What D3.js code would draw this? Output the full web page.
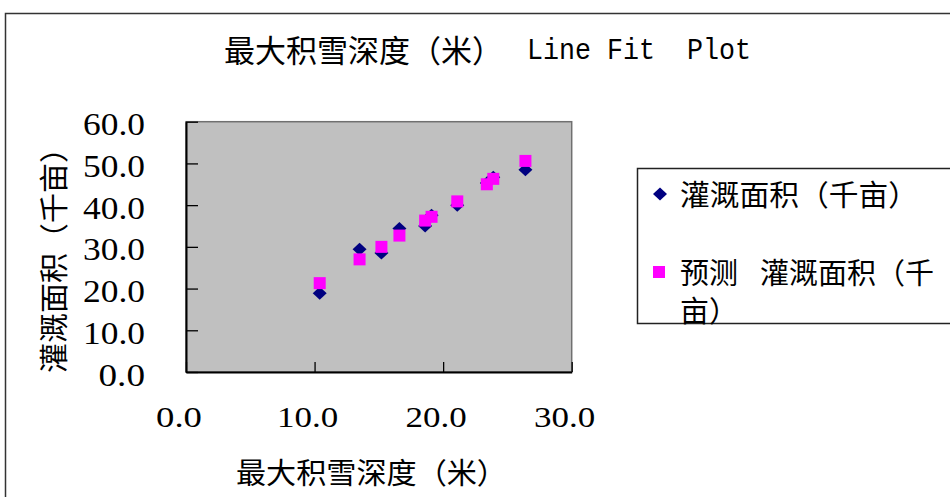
<!DOCTYPE html>
<html>
<head>
<meta charset="utf-8">
<script src="https://cdn.jsdelivr.net/npm/d3@7"></script>
<style>
  html, body { margin: 0; padding: 0; background: #ffffff; }
  svg { display: block; }
</style>
</head>
<body>
<svg id="chart" width="950" height="497"></svg>
<script>
// Snow depth (x) against irrigated area: observed and fitted values
const snowDepth = [10.4, 13.5, 15.2, 16.6, 18.6, 19.1, 21.1, 23.4, 23.9, 26.4];
const irrigated = [18.9, 29.4, 28.5, 34.4, 35.0, 37.6, 40.0, 45.3, 46.7, 48.5];
const predicted = [21.3, 27.0, 30.0, 32.7, 36.3, 37.2, 40.9, 45.0, 46.3, 50.6];
const xTicks = [0, 10, 20, 30];
const yTicks = [0, 10, 20, 30, 40, 50, 60];
const titleCJK = "最大积雪深度（米）";
const titleLatin = "Line Fit  Plot";
const xTitle = "最大积雪深度（米）";
const yTitle = "灌溉面积（千亩）";
const seriesNames = ["灌溉面积（千亩）", "预测 灌溉面积（千亩）"];

const CJK = "'Noto Sans CJK SC', sans-serif";
const SERIF = "'Liberation Serif', 'DejaVu Serif', serif";
const MONO = "'Liberation Mono', 'DejaVu Sans Mono', monospace";

const svg = d3.select("#chart");

// outer chart frame (runs past the window on the right and bottom)
svg.append("rect")
  .attr("x", 5.5).attr("y", 13.5)
  .attr("width", 1000).attr("height", 600)
  .attr("fill", "#ffffff").attr("stroke", "#333333").attr("stroke-width", 1.5);

const plot = { left: 186, right: 571.7, top: 121.7, bottom: 372 };

const x = d3.scaleLinear().domain([0, 30]).range([plot.left, plot.right]);
const y = d3.scaleLinear().domain([0, 60]).range([plot.bottom, plot.top]);

// plot area
svg.append("rect")
  .attr("x", plot.left).attr("y", plot.top)
  .attr("width", plot.right - plot.left).attr("height", plot.bottom - plot.top)
  .attr("fill", "#C0C0C0").attr("stroke", "#707070").attr("stroke-width", 1.5);

// y axis, ticks pointing inwards
const yAxis = svg.append("g")
  .attr("transform", `translate(${plot.left},0)`)
  .call(d3.axisLeft(y).tickValues(yTicks).tickSizeInner(-12).tickSizeOuter(0)
    .tickPadding(41).tickFormat(d3.format(".1f")));
yAxis.select(".domain").attr("stroke", "#000").attr("stroke-width", 2);
yAxis.selectAll(".tick line").attr("stroke", "#000").attr("stroke-width", 1.3);
yAxis.selectAll(".tick text")
  .attr("font-family", SERIF).attr("font-size", 31).attr("fill", "#000")
  .attr("dy", "0.42em")
  .attr("textLength", d => d3.format(".1f")(d).length * 15.5)
  .attr("lengthAdjust", "spacingAndGlyphs");

// x axis, ticks pointing inwards
const xAxis = svg.append("g")
  .attr("transform", `translate(0,${plot.bottom})`)
  .call(d3.axisBottom(x).tickValues(xTicks).tickSizeInner(-10).tickSizeOuter(0)
    .tickPadding(0).tickFormat(d3.format(".1f")));
xAxis.select(".domain").attr("stroke", "#000").attr("stroke-width", 2);
xAxis.selectAll(".tick line").attr("stroke", "#000").attr("stroke-width", 1.3);
xAxis.selectAll(".tick text")
  .attr("font-family", SERIF).attr("font-size", 29).attr("fill", "#000")
  .attr("x", -7.5).attr("y", 55).attr("dy", 0)
  .attr("textLength", d => d3.format(".1f")(d).length * 15.3)
  .attr("lengthAdjust", "spacingAndGlyphs");

// markers
const diamond = (cx, cy) => `M${cx},${cy - 6.5}L${cx + 7},${cy}L${cx},${cy + 6.5}L${cx - 7},${cy}Z`;

svg.append("g").selectAll("path")
  .data(snowDepth.map((d, i) => [d, irrigated[i]]))
  .join("path")
  .attr("d", d => diamond(x(d[0]), y(d[1])))
  .attr("fill", "#000080");

svg.append("g").selectAll("rect")
  .data(snowDepth.map((d, i) => [d, predicted[i]]))
  .join("rect")
  .attr("x", d => x(d[0]) - 6).attr("y", d => y(d[1]) - 6)
  .attr("width", 12).attr("height", 12)
  .attr("fill", "#FF00FF");

// title
svg.append("text")
  .attr("x", 224).attr("y", 48).attr("dominant-baseline", "central")
  .attr("font-family", CJK).attr("font-size", 31).attr("fill", "#000")
  .attr("textLength", 279).attr("lengthAdjust", "spacingAndGlyphs")
  .text(titleCJK);
svg.append("text")
  .attr("x", 527).attr("y", 59)
  .attr("font-family", MONO).attr("font-size", 30).attr("fill", "#000")
  .attr("textLength", 224).attr("lengthAdjust", "spacingAndGlyphs")
  .attr("xml:space", "preserve")
  .text(titleLatin);

// axis titles
svg.append("text")
  .attr("x", 371.5).attr("y", 471).attr("text-anchor", "middle")
  .attr("dominant-baseline", "central")
  .attr("font-family", CJK).attr("font-size", 29).attr("fill", "#000")
  .attr("textLength", 271).attr("lengthAdjust", "spacingAndGlyphs")
  .text(xTitle);

svg.append("text")
  .attr("transform", "translate(52,253) rotate(-90)")
  .attr("text-anchor", "middle").attr("dominant-baseline", "central")
  .attr("font-family", CJK).attr("font-size", 29).attr("fill", "#000")
  .attr("textLength", 240).attr("lengthAdjust", "spacingAndGlyphs")
  .text(yTitle);

// legend
const legend = svg.append("g");
legend.append("rect")
  .attr("x", 637.5).attr("y", 168.5).attr("width", 400).attr("height", 155)
  .attr("fill", "#ffffff").attr("stroke", "#222222").attr("stroke-width", 1.5);

legend.append("path").attr("d", diamond(660, 194)).attr("fill", "#000080");
legend.append("text")
  .attr("x", 680).attr("y", 193).attr("dominant-baseline", "central")
  .attr("font-family", CJK).attr("font-size", 29).attr("fill", "#000")
  .attr("textLength", 238).attr("lengthAdjust", "spacingAndGlyphs")
  .text(seriesNames[0]);

legend.append("rect").attr("x", 653).attr("y", 266).attr("width", 12).attr("height", 12)
  .attr("fill", "#FF00FF");
const [predWord, restWord] = seriesNames[1].split(" ");
const l2 = legend.append("text")
  .attr("font-family", CJK).attr("font-size", 29).attr("fill", "#000")
  .attr("dominant-baseline", "central");
l2.append("tspan").attr("x", 680).attr("y", 271).text(predWord);
l2.append("tspan").attr("x", 760).attr("y", 271).text(restWord.slice(0, 6));
l2.append("tspan").attr("x", 680).attr("y", 309).text(restWord.slice(6));
</script>
</body>
</html>
